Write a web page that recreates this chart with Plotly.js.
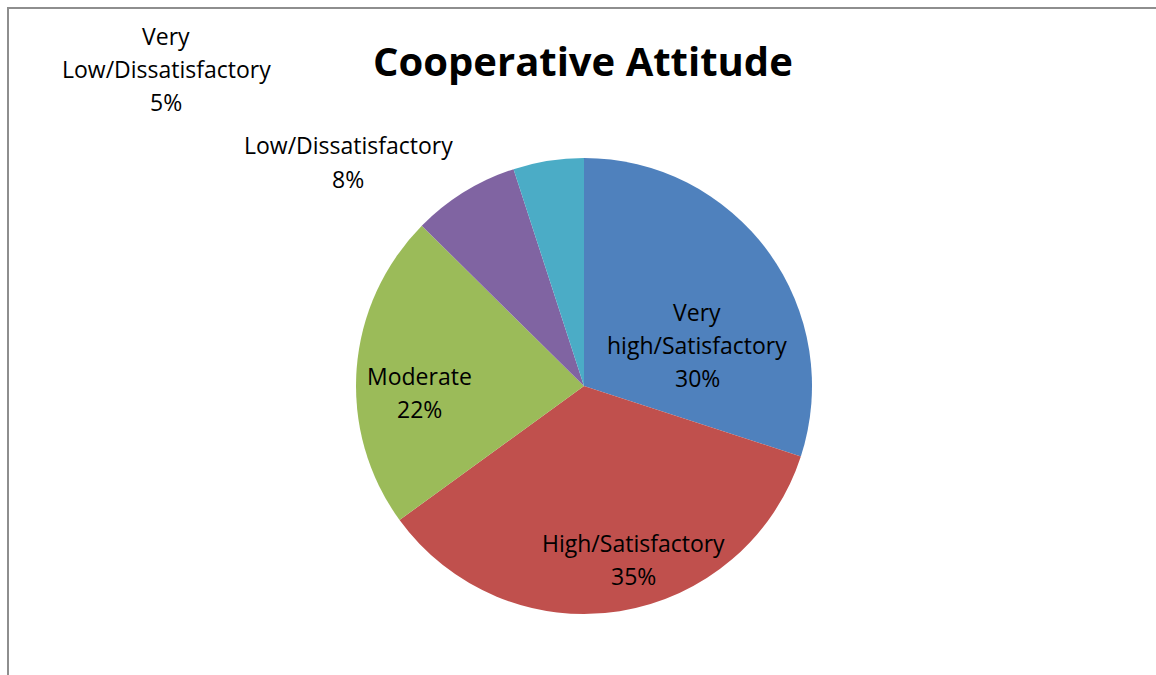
<!DOCTYPE html>
<html>
<head>
<meta charset="utf-8">
<script src="https://cdn.plot.ly/plotly-3.0.1.min.js"></script>
<style>
  html, body { margin: 0; padding: 0; background: #ffffff; }
  #wrap { position: relative; width: 1156px; height: 675px; overflow: hidden; }
  #frame { position: absolute; left: 7px; top: 7px; width: 1160px; height: 680px;
           border-left: 2px solid #8e8e8e; border-top: 2px solid #8e8e8e; pointer-events: none; }
  #chart { position: absolute; left: 0; top: 0; width: 1156px; height: 675px; }
</style>
</head>
<body>
<div id="wrap">
  <div id="chart"></div>
  <div id="frame"></div>
</div>
<script>
// ---- data ----
const categories = ["Very high/Satisfactory", "High/Satisfactory", "Moderate", "Low/Dissatisfactory", "Very Low/Dissatisfactory"];
const displayLabels = ["Very<br>high/Satisfactory", "High/Satisfactory", "Moderate", "Low/Dissatisfactory", "Very<br>Low/Dissatisfactory"];
const values = [30, 35, 22.4, 7.6, 5];
const colors = ["#4F81BD", "#C0504D", "#9BBB59", "#8064A2", "#4BACC6"];
const chartTitle = "Cooperative Attitude";

// ---- layout constants (label anchor points in pixels) ----
const W = 1156, H = 675;
const labelAnchors = [[697, 345], [633, 559], [419, 392], [348, 162], [166, 69]];
const lineStep = 33;
const cx = 584, cy = 386, r = 228;

const total = values.reduce((a, b) => a + b, 0);
const annotations = [];
categories.forEach((c, i) => {
  const lines = (displayLabels[i] + "<br>" + Math.round(values[i] / total * 100) + "%").split("<br>");
  const n = lines.length;
  lines.forEach((ln, k) => {
    const py = labelAnchors[i][1] + lineStep * (k - (n - 1) / 2);
    annotations.push({
      text: ln,
      x: labelAnchors[i][0] / W,
      y: 1 - py / H,
      xref: "paper", yref: "paper",
      xanchor: "center", yanchor: "middle",
      showarrow: false,
      font: { family: "Open Sans, sans-serif", size: 23, color: "#000000" }
    });
  });
});

annotations.push({
  text: "<b>" + chartTitle + "</b>",
  x: 583 / W, y: 1 - 60 / H,
  xref: "paper", yref: "paper",
  xanchor: "center", yanchor: "middle",
  showarrow: false,
  font: { family: "Open Sans, sans-serif", size: 40, color: "#000000" }
});

const trace = {
  type: "pie",
  labels: categories,
  values: values,
  sort: false,
  direction: "clockwise",
  rotation: 0,
  textinfo: "none",
  hoverinfo: "label+percent",
  marker: { colors: colors, line: { width: 0 } },
  domain: { x: [(cx - r) / W, (cx + r) / W], y: [1 - (cy + r) / H, 1 - (cy - r) / H] },
  showlegend: false
};

const layout = {
  width: W, height: H,
  margin: { l: 0, r: 0, t: 0, b: 0 },
  paper_bgcolor: "#ffffff",
  showlegend: false,
  annotations: annotations
};

Plotly.newPlot("chart", [trace], layout, { displayModeBar: false, staticPlot: true });
</script>
</body>
</html>
